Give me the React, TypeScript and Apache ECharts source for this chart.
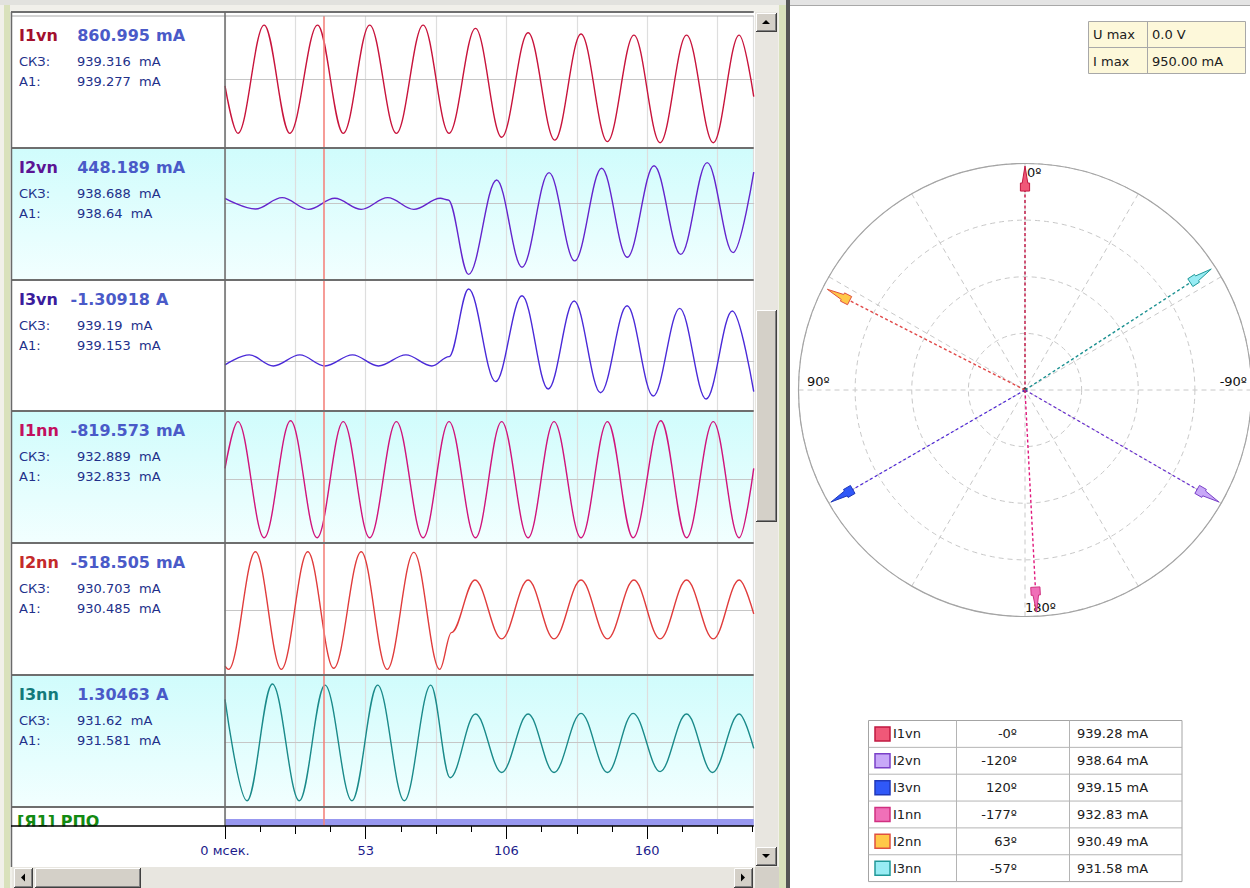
import { useEffect, useRef } from 'react';
import * as echarts from 'echarts';

// ---------------- data ----------------
const CHANNELS = ['I1vn', 'I2vn', 'I3vn', 'I1nn', 'I2nn', 'I3nn'];
const CURSOR_NUMS = ['860.995', '448.189', '-1.30918', '-819.573', '-518.505', '1.30463'];
const CURSOR_UNITS = ['mA', 'mA', 'A', 'mA', 'mA', 'A'];
const RMS_VALUES = ['939.316', '938.688', '939.19', '932.889', '930.703', '931.62'];
const A1_VALUES = ['939.277', '938.64', '939.153', '932.833', '930.485', '931.581'];

// waveform extrema (time ms, value mA)
const T_I1VN = [0, 4.9, 14.8, 24.5, 35.0, 44.7, 54.7, 64.8, 74.9, 84.7, 94.7, 104.6, 114.6, 124.7, 134.6, 144.6, 154.6, 164.5, 174.5, 184.6, 194.4, 199.9];
const V_I1VN = [-160, -1250, 1240, -1250, 1240, -1250, 1240, -1250, 1240, -1250, 1165, -1340, 1065, -1405, 1035, -1440, 1010, -1465, 1010, -1465, 1010, -405];
const T_I2VN = [0, 11.5, 21.6, 31.6, 41.5, 51.5, 61.5, 71.4, 81.4, 84.4, 92.1, 102.7, 112.3, 122.5, 132.2, 142.4, 152.1, 162.2, 172.3, 182.3, 192.1, 199.9];
const V_I2VN = [115, -130, 130, -140, 115, -140, 130, -140, 115, 75, -1635, 535, -1470, 705, -1325, 805, -1240, 865, -1175, 935, -1135, 715];
const T_I3VN = [0, 9.2, 18.3, 28.3, 37.8, 48.2, 58.0, 68.4, 78.2, 84.7, 92.1, 102.3, 112.3, 122.2, 132.0, 142.0, 152.0, 161.9, 171.9, 181.9, 191.8, 199.9];
const V_I3VN = [-90, 140, -115, 140, -115, 140, -115, 140, -115, 100, 1655, -475, 1500, -645, 1380, -730, 1270, -805, 1210, -875, 1150, -705];
const T_I1NN = [0, 4.9, 14.8, 24.8, 34.8, 44.7, 54.7, 64.8, 74.9, 84.7, 94.7, 104.6, 114.6, 124.4, 134.6, 144.6, 154.3, 164.8, 174.5, 184.6, 194.4, 199.9];
const V_I1NN = [245, 1320, -1350, 1340, -1350, 1320, -1350, 1320, -1350, 1320, -1350, 1320, -1350, 1320, -1350, 1320, -1350, 1340, -1350, 1320, -1350, 245];
const T_I2NN = [0, 1.4, 11.5, 21.3, 31.3, 41.1, 51.5, 61.3, 71.4, 81.2, 85.6, 94.5, 104.6, 114.6, 124.4, 134.6, 144.6, 154.6, 164.5, 174.5, 184.6, 194.4, 199.9];
const V_I2NN = [-1290, -1365, 1340, -1365, 1340, -1340, 1340, -1365, 1325, -1365, -520, 690, -665, 690, -665, 690, -665, 690, -665, 690, -665, 690, -90];
const T_I3NN = [0, 8.3, 17.9, 28.1, 37.8, 48.0, 57.7, 67.8, 77.8, 85.1, 94.7, 104.6, 114.6, 124.4, 134.6, 144.6, 154.3, 164.5, 174.5, 184.3, 194.4, 199.9];
const V_I3NN = [995, -1335, 1350, -1335, 1325, -1335, 1325, -1335, 1325, -805, 660, -685, 660, -685, 675, -685, 675, -665, 660, -685, 660, -130];

const WAVE_T = [T_I1VN, T_I2VN, T_I3VN, T_I1NN, T_I2NN, T_I3NN];
const WAVE_V = [V_I1VN, V_I2VN, V_I3VN, V_I1NN, V_I2NN, V_I3NN];
const Y_MIN = [-1587, -1764, -1150, -1472, -1495, -1479];
const Y_MAX = [1449, 1272, 1863, 1564, 1541, 1557];

const RPO_T = [0, 199.9];
const RPO_V = [1, 1];

const TIME_MAX = 199.9;
const CURSOR_T = 37.4;
const MAJOR_TICKS = [0, 53.2, 106.4, 159.6];
const MID_STEP = 26.6;
const MINOR_STEP = 13.3;

const PHASOR_ANGLES = [-0, -120, 120, -177, 63, -57];
const PHASOR_ANGLE_LABELS = ['-0º', '-120º', '120º', '-177º', '63º', '-57º'];
const PHASOR_MAGS = [939.28, 938.64, 939.15, 932.83, 930.49, 931.58];
const I_MAX = 950;
const U_MAX_TEXT = '0.0 V';
const I_MAX_TEXT = '950.00 mA';

// ---------------- styles ----------------
const FONT = '"DejaVu Sans", Verdana, sans-serif';
const NAME_COLORS = ['#a3102e', '#5c1494', '#3a1c9c', '#c2105e', '#c42a2a', '#137a7a'];
const WAVE_COLORS = ['#c8143c', '#6424cc', '#4a2ad8', '#d0147c', '#e03c3c', '#1a8a8a'];
const VEC_LINE = ['#c01040', '#6a30d0', '#5028d8', '#e0187c', '#e04848', '#1a9090'];
const VEC_FILL = ['#f05878', '#c8a8f8', '#3058f8', '#f070b8', '#ffc848', '#98ecf4'];
const VEC_STROKE = ['#c01840', '#7a40c8', '#2038b8', '#d03080', '#e05040', '#209898'];
const VALUE_COLOR = '#4a5ac8';
const INFO_COLOR = '#22308a';

const ROW_TOPS = [16, 148, 280, 411, 543, 675, 807];
const PLOT_LEFT = 225;
const PX_PER_MS = 2.645;
const PLOT_W = TIME_MAX * PX_PER_MS;
const PLOT_RIGHT = PLOT_LEFT + PLOT_W;

const rect = (x: number, y: number, w: number, h: number, fill: any, z = -5, stroke?: string, lw = 1) => ({
  type: 'rect', silent: true, z,
  shape: { x, y, width: w, height: h },
  style: { fill, stroke: stroke || null, lineWidth: stroke ? lw : 0 },
});
const line = (x1: number, y1: number, x2: number, y2: number, stroke: string, lw = 1, z = 8) => ({
  type: 'line', silent: true, z,
  shape: { x1, y1, x2, y2 },
  style: { stroke, lineWidth: lw },
});
const txt = (x: number, y: number, s: string, size: number, color: string, o: any = {}) => ({
  type: 'text', silent: true, z: o.z ?? 10, x, y,
  style: {
    text: s, fill: color,
    font: `${o.bold ? 'bold ' : ''}${size}px ${FONT}`,
    textAlign: o.align || 'left', align: o.align || 'left',
    textVerticalAlign: 'middle', verticalAlign: 'middle',
  },
});

function button(x: number, y: number, w: number, h: number, dir?: string) {
  const els: any[] = [
    rect(x, y, w, h, '#d4d0c8', 20),
    line(x + 0.5, y + 0.5, x + w - 1, y + 0.5, '#ffffff', 1, 21),
    line(x + 0.5, y + 0.5, x + 0.5, y + h - 1, '#ffffff', 1, 21),
    line(x, y + h - 0.5, x + w, y + h - 0.5, '#404040', 1, 21),
    line(x + w - 0.5, y, x + w - 0.5, y + h, '#404040', 1, 21),
    line(x + 1, y + h - 1.5, x + w - 1, y + h - 1.5, '#808080', 1, 21),
    line(x + w - 1.5, y + 1, x + w - 1.5, y + h - 1, '#808080', 1, 21),
  ];
  if (dir) {
    const cx = x + w / 2 - 0.5, cy = y + h / 2 - 0.5;
    let pts: number[][] = [];
    if (dir === 'up') pts = [[cx - 4, cy + 2], [cx + 4, cy + 2], [cx, cy - 2]];
    if (dir === 'down') pts = [[cx - 4, cy - 2], [cx + 4, cy - 2], [cx, cy + 2]];
    if (dir === 'left') pts = [[cx + 2, cy - 4], [cx + 2, cy + 4], [cx - 2, cy]];
    if (dir === 'right') pts = [[cx - 2, cy - 4], [cx - 2, cy + 4], [cx + 2, cy]];
    els.push({ type: 'polygon', silent: true, z: 22, shape: { points: pts }, style: { fill: '#000000' } });
  }
  return els;
}

function buildGraphic() {
  const g: any[] = [];
  // page backgrounds
  g.push(rect(0, 0, 790, 888, '#f1f0ea', -20));
  g.push(rect(4, 5, 6, 883, '#d9e1bc', -19));
  g.push(rect(779, 5, 7, 883, '#d9e1bc', -19));
  g.push(rect(786, 0, 4, 888, '#555555', -19));
  g.push(rect(790, 0, 460, 888, '#ffffff', -20));
  g.push(rect(790, 0, 460, 5, '#e4e4e4', -19));
  g.push(line(790, 5.5, 1250, 5.5, '#a8a8a8', 1, -18));
  g.push(rect(0, 0, 786, 5, '#e2e2de', -19));
  // left panel
  g.push(rect(11, 12, 744, 855, '#ffffff', -18));
  const cyan = { type: 'linear', x: 0, y: 0, x2: 0, y2: 1, colorStops: [{ offset: 0, color: '#d0fcfc' }, { offset: 1, color: '#f2ffff' }] };
  [1, 3, 5].forEach((i) => g.push(rect(12, ROW_TOPS[i], PLOT_RIGHT - 12, ROW_TOPS[i + 1] - ROW_TOPS[i], cyan, -17)));
  // borders
  g.push(line(11, 12, PLOT_RIGHT, 12, '#707070', 2, 8));
  g.push(line(11, 16, PLOT_RIGHT, 16, '#a8a8a8', 1, 8));
  for (let i = 1; i < ROW_TOPS.length; i++) g.push(line(11, ROW_TOPS[i], PLOT_RIGHT, ROW_TOPS[i], '#6e6e6e', 2, 8));
  g.push(line(PLOT_LEFT, 12, PLOT_LEFT, 826, '#6a6a6a', 1.5, 8));
  g.push(line(11.5, 12, 11.5, 867, '#6a6a6a', 1.5, 8));
  g.push(line(11, 826, PLOT_RIGHT, 826, '#000000', 1.5, 13));
  // row labels
  CHANNELS.forEach((name, i) => {
    const top = ROW_TOPS[i];
    g.push(txt(19, top + 19.5, name, 16, NAME_COLORS[i], { bold: true }));
    g.push(txt(150, top + 19.5, CURSOR_NUMS[i], 16, VALUE_COLOR, { bold: true, align: 'right' }));
    g.push(txt(156, top + 19.5, CURSOR_UNITS[i], 16, VALUE_COLOR, { bold: true }));
    g.push(txt(19, top + 45, 'СКЗ:', 13, INFO_COLOR));
    g.push(txt(77, top + 45, `${RMS_VALUES[i]}\u00a0\u00a0mA`, 13, INFO_COLOR));
    g.push(txt(19, top + 65.5, 'A1:', 13, INFO_COLOR));
    g.push(txt(77, top + 65.5, `${A1_VALUES[i]}\u00a0\u00a0mA`, 13, INFO_COLOR));
  });
  // digital channel label (clipped by axis area)
  g.push(txt(17, 821, '[Я1] РПО', 16, '#128a12', { bold: true, z: 4 }));
  g.push(rect(12.5, 826.5, PLOT_RIGHT - 12.5, 40, '#ffffff', 6));
  // horizontal scrollbar
  g.push(rect(12, 867, PLOT_RIGHT - 12, 21, '#e8e6e0', 19));
  g.push(...button(14, 868, 19, 20, 'left'));
  g.push(...button(35, 868, 106, 20));
  g.push(...button(734, 868, 19, 20, 'right'));
  // vertical scrollbar
  g.push(rect(755, 12, 23, 855, '#e8e6e0', 19));
  g.push(...button(756, 13, 21, 19, 'up'));
  g.push(...button(756, 310, 21, 212));
  g.push(...button(756, 847, 21, 19, 'down'));
  g.push(rect(755, 867, 24, 21, '#d4d0c8', 19));
  // polar labels
  g.push(txt(1027, 172.5, '0º', 13, '#111111', { z: 1 }));
  g.push(txt(807, 381, '90º', 13, '#111111', { z: 1 }));
  g.push(txt(1247, 381, '-90º', 13, '#111111', { z: 1, align: 'right' }));
  g.push(txt(1025, 607, '180º', 13, '#111111', { z: 1 }));
  // U max / I max box
  g.push(rect(1088.5, 21.5, 157, 52, '#fdf8da', 9, '#a8a8a8'));
  g.push(line(1088.5, 47.5, 1245.5, 47.5, '#a8a8a8', 1, 9));
  g.push(line(1147.5, 21.5, 1147.5, 73.5, '#a8a8a8', 1, 9));
  g.push(txt(1093, 34.5, 'U max', 13, '#202020'));
  g.push(txt(1152, 34.5, U_MAX_TEXT, 13, '#202020'));
  g.push(txt(1093, 61, 'I max', 13, '#202020'));
  g.push(txt(1152, 61, I_MAX_TEXT, 13, '#202020'));
  // phasor table
  const TX = 868.5, TY = 720.5, TW = 313.5, RH = 26.85;
  g.push(rect(TX, TY, TW, RH * 6, '#ffffff', 9, '#a4a4a4'));
  for (let k = 1; k < 6; k++) g.push(line(TX, TY + k * RH, TX + TW, TY + k * RH, '#b4b4b4', 1, 9));
  g.push(line(956.5, TY, 956.5, TY + RH * 6, '#b4b4b4', 1, 9));
  g.push(line(1069.5, TY, 1069.5, TY + RH * 6, '#b4b4b4', 1, 9));
  CHANNELS.forEach((name, i) => {
    const cy = TY + i * RH + RH / 2;
    g.push(rect(875, cy - 7, 15, 14, VEC_FILL[i], 10, VEC_STROKE[i], 1.5));
    g.push(txt(893, cy, name, 13, '#202020'));
    g.push(txt(1017, cy, PHASOR_ANGLE_LABELS[i], 13, '#202020', { align: 'right' }));
    g.push(txt(1077, cy, `${PHASOR_MAGS[i].toFixed(2)} mA`, 13, '#202020'));
  });
  return g;
}

const renderPhasor = (_params: any, api: any) => {
  const r = api.value(0);
  const a = api.value(1);
  const i = api.value(2);
  const c = api.coord([0, a]);
  const tip = api.coord([r, a]);
  const dx = tip[0] - c[0], dy = tip[1] - c[1];
  const len = Math.hypot(dx, dy) || 1;
  const ux = dx / len, uy = dy / len, px = -uy, py = ux;
  const P = (b: number, w: number) => [tip[0] - ux * b + px * w, tip[1] - uy * b + py * w];
  const head = [P(0, 0), P(17, 2.8), P(17, 4.6), P(25, 4.6), P(25, -4.6), P(17, -4.6), P(17, -2.8)];
  const children: any[] = [
    { type: 'line', shape: { x1: c[0], y1: c[1], x2: tip[0] - ux * 20, y2: tip[1] - uy * 20 }, style: { stroke: VEC_LINE[i], lineWidth: 1.4, lineDash: [3, 2.5] } },
    { type: 'polygon', shape: { points: head }, style: { fill: VEC_FILL[i], stroke: VEC_STROKE[i], lineWidth: 1 } },
  ];
  if (i === 0) children.push({ type: 'circle', shape: { cx: c[0], cy: c[1], r: 2.5 }, style: { fill: '#404040' } });
  return { type: 'group', children };
};

function buildOption(): any {
  const grids: any[] = [];
  const xAxes: any[] = [];
  const yAxes: any[] = [];
  const series: any[] = [];
  const cursor = {
    silent: true, symbol: ['none', 'none'], label: { show: false },
    lineStyle: { color: '#f4847e', width: 1.6, type: 'solid' },
    emphasis: { disabled: true },
    data: [{ xAxis: CURSOR_T }],
  };
  // analog rows + digital row
  for (let i = 0; i < 7; i++) {
    grids.push({ left: PLOT_LEFT, top: ROW_TOPS[i], width: PLOT_W, height: (i < 6 ? ROW_TOPS[i + 1] : 826) - ROW_TOPS[i], show: false });
    xAxes.push({
      gridIndex: i, type: 'value', min: 0, max: TIME_MAX, interval: MID_STEP,
      axisLine: { show: i < 6, onZero: true, lineStyle: { color: '#c6c6c6', width: 1.2 } },
      axisTick: { show: false }, axisLabel: { show: false },
      splitLine: { show: true, lineStyle: { color: '#dedede', width: 1.2 } },
    });
    yAxes.push({
      gridIndex: i, type: 'value', show: false,
      min: i < 6 ? Y_MIN[i] : 0, max: i < 6 ? Y_MAX[i] : 2.7,
      splitLine: { show: false },
    });
  }
  for (let i = 0; i < 6; i++) {
    series.push({
      type: 'line', name: CHANNELS[i], xAxisIndex: i, yAxisIndex: i,
      data: WAVE_T[i].map((t, k) => [t, WAVE_V[i][k]]),
      smooth: 0.36, smoothMonotone: 'x', showSymbol: false, symbol: 'none',
      lineStyle: { color: WAVE_COLORS[i], width: 1.4 }, clip: true, silent: true, z: 3,
      markLine: cursor,
    });
  }
  series.push({
    type: 'line', name: 'РПО', xAxisIndex: 6, yAxisIndex: 6,
    data: RPO_T.map((t, k) => [t, RPO_V[k]]),
    showSymbol: false, symbol: 'none', lineStyle: { width: 0, color: '#9898f0' },
    areaStyle: { color: '#9898f0', opacity: 1 }, silent: true, z: 3,
    markLine: cursor,
  });
  // time axis ticks (three lengths)
  const minorTicks: number[] = [];
  for (let k = 0; k * MINOR_STEP <= TIME_MAX + 1e-6; k++) minorTicks.push(+(k * MINOR_STEP).toFixed(1));
  const midTicks: number[] = [];
  for (let k = 0; k * MID_STEP <= TIME_MAX + 1e-6; k++) midTicks.push(+(k * MID_STEP).toFixed(1));
  const tickSets = [
    { values: MAJOR_TICKS, len: 13, labels: true, interval: 53.2 },
    { values: midTicks, len: 8, labels: false, interval: MID_STEP },
    { values: minorTicks, len: 6, labels: false, interval: MINOR_STEP },
  ];
  tickSets.forEach((ts, j) => {
    const gi = 7 + j;
    grids.push({ left: PLOT_LEFT, top: 807, width: PLOT_W, height: 19, show: false });
    xAxes.push({
      gridIndex: gi, type: 'value', position: 'bottom', min: 0, max: TIME_MAX, interval: ts.interval, z: 12,
      axisLine: { show: false },
      axisTick: { show: true, length: ts.len, customValues: ts.values, lineStyle: { color: '#000000', width: 1 } },
      axisLabel: {
        show: ts.labels, customValues: ts.values, margin: 18, color: '#1c1c8c', fontSize: 13, fontFamily: FONT,
        formatter: (v: number) => (v === 0 ? '0 мсек.' : String(Math.round(v))),
      },
      splitLine: { show: false },
    });
    yAxes.push({ gridIndex: gi, type: 'value', show: false, min: 0, max: 1 });
  });
  // phasor diagram
  series.push({
    type: 'custom', name: 'phasors', coordinateSystem: 'polar', polarIndex: 0,
    data: PHASOR_MAGS.map((m, i) => [m, ((PHASOR_ANGLES[i] % 360) + 360) % 360, i]),
    encode: { radius: 0, angle: 1 },
    renderItem: renderPhasor, silent: true, z: 5,
  });
  return {
    animation: false,
    backgroundColor: '#f1f0ea',
    grid: grids,
    xAxis: xAxes,
    yAxis: yAxes,
    polar: { center: [1025, 390], radius: 226.5 },
    angleAxis: {
      type: 'value', min: 0, max: 360, interval: 30, startAngle: 90, clockwise: false,
      axisLine: { show: true, lineStyle: { color: '#a4a4a4', width: 1.2 } },
      axisTick: { show: false }, axisLabel: { show: false },
      splitLine: { show: true, lineStyle: { color: '#c8c8c8', type: [5, 4], width: 1 } },
    },
    radiusAxis: {
      type: 'value', min: 0, max: I_MAX, interval: I_MAX / 4,
      axisLine: { show: false }, axisTick: { show: false }, axisLabel: { show: false },
      splitLine: { show: true, lineStyle: { color: '#c8c8c8', type: [5, 4], width: 1 } },
    },
    graphic: { elements: buildGraphic() },
    series,
  };
}

export default function App() {
  const ref = useRef<HTMLDivElement>(null);
  useEffect(() => {
    if (!ref.current) return;
    const chart = echarts.init(ref.current, null, { renderer: 'svg' });
    chart.setOption(buildOption());
    return () => chart.dispose();
  }, []);
  return <div ref={ref} style={{ position: 'absolute', left: 0, top: 0, width: 1250, height: 888 }} />;
}
